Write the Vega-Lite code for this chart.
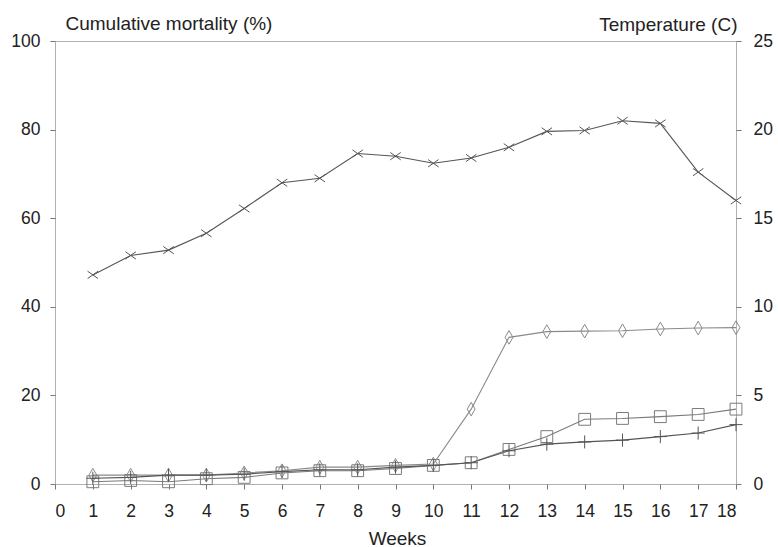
{
  "$schema": "https://vega.github.io/schema/vega-lite/v6.json",
  "autosize": "none",
  "width": 681,
  "height": 443,
  "padding": {"left": 55, "top": 41, "right": 42, "bottom": 63},
  "background": "white",
  "config": {
    "font": "Liberation Sans",
    "view": {"stroke": "#b0b0b0", "strokeWidth": 1},
    "axis": {"labelFont": "Liberation Sans", "titleFont": "Liberation Sans", "labelColor": "#222", "titleColor": "#222", "labelFontSize": 17.5, "titleFontSize": 19, "titleFontWeight": "normal", "grid": false, "domain": false, "tickColor": "#777", "tickSize": 5}
  },
  "data": {"values": [
    {"week":1,"series":"Temperature","value":11.8},{"week":2,"series":"Temperature","value":12.9},{"week":3,"series":"Temperature","value":13.2},{"week":4,"series":"Temperature","value":14.15},{"week":5,"series":"Temperature","value":15.55},{"week":6,"series":"Temperature","value":17.0},{"week":7,"series":"Temperature","value":17.25},{"week":8,"series":"Temperature","value":18.65},{"week":9,"series":"Temperature","value":18.5},{"week":10,"series":"Temperature","value":18.1},{"week":11,"series":"Temperature","value":18.4},{"week":12,"series":"Temperature","value":19.0},{"week":13,"series":"Temperature","value":19.9},{"week":14,"series":"Temperature","value":19.95},{"week":15,"series":"Temperature","value":20.5},{"week":16,"series":"Temperature","value":20.35},{"week":17,"series":"Temperature","value":17.6},{"week":18,"series":"Temperature","value":16.0},
    {"week":1,"series":"A","value":2},{"week":2,"series":"A","value":2},{"week":3,"series":"A","value":2},{"week":4,"series":"A","value":2},{"week":5,"series":"A","value":2.5},{"week":6,"series":"A","value":3},{"week":7,"series":"A","value":3.8},{"week":8,"series":"A","value":3.8},{"week":9,"series":"A","value":4.2},{"week":10,"series":"A","value":4.5},{"week":11,"series":"A","value":16.9},{"week":12,"series":"A","value":33.1},{"week":13,"series":"A","value":34.4},{"week":14,"series":"A","value":34.5},{"week":15,"series":"A","value":34.6},{"week":16,"series":"A","value":35},{"week":17,"series":"A","value":35.2},{"week":18,"series":"A","value":35.3},
    {"week":1,"series":"B","value":0.5},{"week":2,"series":"B","value":0.8},{"week":3,"series":"B","value":0.5},{"week":4,"series":"B","value":1.2},{"week":5,"series":"B","value":1.5},{"week":6,"series":"B","value":2.5},{"week":7,"series":"B","value":3},{"week":8,"series":"B","value":3},{"week":9,"series":"B","value":3.5},{"week":10,"series":"B","value":4.2},{"week":11,"series":"B","value":4.8},{"week":12,"series":"B","value":7.8},{"week":13,"series":"B","value":10.7},{"week":14,"series":"B","value":14.6},{"week":15,"series":"B","value":14.8},{"week":16,"series":"B","value":15.2},{"week":17,"series":"B","value":15.7},{"week":18,"series":"B","value":16.9},
    {"week":1,"series":"C","value":1.3},{"week":2,"series":"C","value":1.5},{"week":3,"series":"C","value":2},{"week":4,"series":"C","value":2},{"week":5,"series":"C","value":2.2},{"week":6,"series":"C","value":2.8},{"week":7,"series":"C","value":3.2},{"week":8,"series":"C","value":3.2},{"week":9,"series":"C","value":3.8},{"week":10,"series":"C","value":4.2},{"week":11,"series":"C","value":4.8},{"week":12,"series":"C","value":7.5},{"week":13,"series":"C","value":9},{"week":14,"series":"C","value":9.5},{"week":15,"series":"C","value":9.9},{"week":16,"series":"C","value":10.7},{"week":17,"series":"C","value":11.5},{"week":18,"series":"C","value":13.4}
  ]},
  "encoding": {
    "x": {"field": "week", "type": "quantitative", "scale": {"domain": [0, 18], "nice": false, "zero": false},
      "axis": {"title": "Weeks", "values": [0,1,2,3,4,5,6,7,8,9,10,11,12,13,14,15,16,17,18], "labelBaseline": "middle", "labelPadding": 22, "titleX": 342, "titleY": 54, "titleBaseline": "middle", "titleAlign": "center"}}
  },
  "layer": [
    {
      "transform": [{"filter": "datum.series !== 'Temperature'"}],
      "encoding": {
        "y": {"field": "value", "type": "quantitative", "scale": {"domain": [0, 100], "nice": false},
          "axis": {"orient": "left", "title": "Cumulative mortality (%)", "values": [0,20,40,60,80,100], "labelPadding": 10, "titleAngle": 0, "titleAlign": "left", "titleBaseline": "middle", "titleX": 10, "titleY": -18}},
        "detail": {"field": "series"}
      },
      "layer": [
        {"mark": {"type": "line", "strokeWidth": 1.1},
         "encoding": {"color": {"field": "series", "type": "nominal", "scale": {"domain": ["A","B","C"], "range": ["#8a8a8a","#7a7a7a","#555555"]}, "legend": null}}},
        {"mark": {"type": "point", "filled": false, "strokeWidth": 1, "opacity": 1},
         "encoding": {
           "shape": {"field": "series", "type": "nominal", "scale": {"domain": ["A","B","C"], "range": ["M0,-1.3L0.75,0L0,1.3L-0.75,0Z", "square", "M-1,0L1,0M0,-1L0,1"]}, "legend": null},
           "size": {"field": "series", "type": "nominal", "scale": {"domain": ["A","B","C"], "range": [110, 170, 40]}, "legend": null},
           "color": {"field": "series", "type": "nominal", "scale": {"domain": ["A","B","C"], "range": ["#666666","#777777","#666666"]}, "legend": null}
         }}
      ]
    },
    {
      "transform": [{"filter": "datum.series === 'Temperature'"}],
      "encoding": {
        "y": {"field": "value", "type": "quantitative", "scale": {"domain": [0, 25], "nice": false},
          "axis": {"orient": "right", "title": "Temperature (C)", "values": [0,5,10,15,20,25], "labelPadding": 12, "titleAngle": 0, "titleAlign": "right", "titleBaseline": "middle", "titleX": 1, "titleY": -17}}
      },
      "layer": [
        {"mark": {"type": "line", "color": "#555555", "strokeWidth": 1.1}},
        {"mark": {"type": "point", "shape": "M-1,-0.7L1,0.7M-1,0.7L1,-0.7", "filled": false, "color": "#555555", "size": 110, "strokeWidth": 1, "opacity": 1}}
      ]
    }
  ],
  "resolve": {"scale": {"y": "independent", "color": "independent", "shape": "independent", "size": "independent"}}
}
